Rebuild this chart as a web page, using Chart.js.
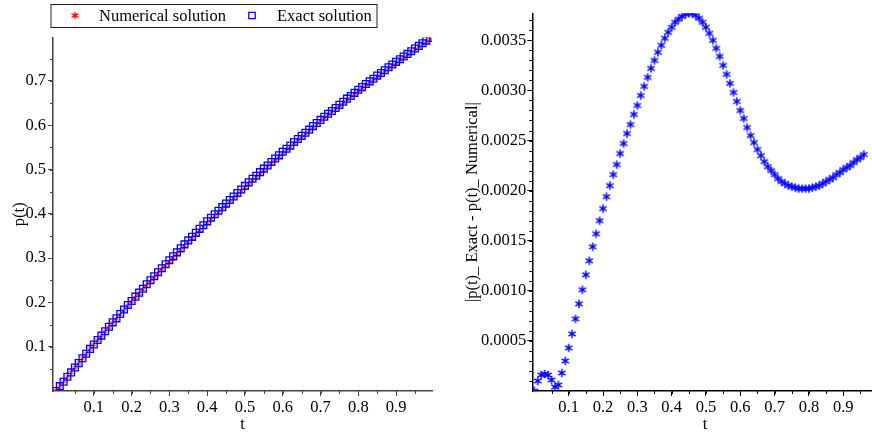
<!DOCTYPE html>
<html>
<head>
<meta charset="utf-8">
<title>p(t) exact vs numerical</title>
<script src="https://cdn.jsdelivr.net/npm/chart.js@4.4.1/dist/chart.umd.min.js"></script>
<style>
    html, body { margin: 0; padding: 0; background: #fff; overflow: hidden; }
    #left-wrap { position: absolute; left: 0; top: 0; width: 440px; height: 433px; }
    #right-wrap { position: absolute; left: 440px; top: 0; width: 443px; height: 433px; }
</style>
</head>
<body>
<div id="left-wrap"><canvas id="solutionChart" width="440" height="433"></canvas></div>
<div id="right-wrap"><canvas id="errorChart" width="443" height="433"></canvas></div>
<script>
// ---- data ----
const tValues = [0, 0.01, 0.02, 0.03, 0.04, 0.05, 0.06, 0.07, 0.08, 0.09,
    0.10, 0.11, 0.12, 0.13, 0.14, 0.15, 0.16, 0.17, 0.18, 0.19,
    0.20, 0.21, 0.22, 0.23, 0.24, 0.25, 0.26, 0.27, 0.28, 0.29,
    0.30, 0.31, 0.32, 0.33, 0.34, 0.35, 0.36, 0.37, 0.38, 0.39,
    0.40, 0.41, 0.42, 0.43, 0.44, 0.45, 0.46, 0.47, 0.48, 0.49,
    0.50, 0.51, 0.52, 0.53, 0.54, 0.55, 0.56, 0.57, 0.58, 0.59,
    0.60, 0.61, 0.62, 0.63, 0.64, 0.65, 0.66, 0.67, 0.68, 0.69,
    0.70, 0.71, 0.72, 0.73, 0.74, 0.75, 0.76, 0.77, 0.78, 0.79,
    0.80, 0.81, 0.82, 0.83, 0.84, 0.85, 0.86, 0.87, 0.88, 0.89,
    0.90, 0.91, 0.92, 0.93, 0.94, 0.95, 0.96, 0.97, 0.98, 0.99];

const exactValues = [0.000, 0.011, 0.021, 0.032, 0.042, 0.053, 0.063, 0.074, 0.084, 0.095,
    0.105, 0.115, 0.125, 0.135, 0.145, 0.155, 0.164, 0.174, 0.184, 0.194,
    0.203, 0.213, 0.222, 0.231, 0.241, 0.250, 0.259, 0.268, 0.277, 0.286,
    0.295, 0.304, 0.313, 0.322, 0.331, 0.340, 0.348, 0.357, 0.366, 0.374,
    0.383, 0.391, 0.399, 0.407, 0.415, 0.423, 0.431, 0.439, 0.447, 0.455,
    0.463, 0.471, 0.479, 0.486, 0.494, 0.502, 0.509, 0.517, 0.525, 0.532,
    0.540, 0.547, 0.554, 0.562, 0.569, 0.576, 0.583, 0.590, 0.598, 0.605,
    0.612, 0.619, 0.626, 0.632, 0.639, 0.646, 0.653, 0.660, 0.666, 0.673,
    0.680, 0.686, 0.693, 0.699, 0.705, 0.712, 0.718, 0.724, 0.731, 0.737,
    0.743, 0.749, 0.755, 0.761, 0.767, 0.773, 0.779, 0.785, 0.791, 0.797];

const numericalValues = [0.0000, 0.0109, 0.0208, 0.0318, 0.0418, 0.0529, 0.0630, 0.0739, 0.0838, 0.0947,
    0.1046, 0.1144, 0.1243, 0.1341, 0.1440, 0.1538, 0.1627, 0.1726, 0.1824, 0.1923,
    0.2012, 0.2111, 0.2199, 0.2288, 0.2387, 0.2476, 0.2565, 0.2654, 0.2743, 0.2832,
    0.2922, 0.3010, 0.3100, 0.3189, 0.3278, 0.3367, 0.3446, 0.3535, 0.3625, 0.3704,
    0.3794, 0.3873, 0.3953, 0.4033, 0.4112, 0.4192, 0.4272, 0.4352, 0.4433, 0.4513,
    0.4594, 0.4674, 0.4755, 0.4826, 0.4907, 0.4987, 0.5058, 0.5139, 0.5220, 0.5291,
    0.5372, 0.5443, 0.5514, 0.5594, 0.5665, 0.5736, 0.5806, 0.5877, 0.5958, 0.6028,
    0.6098, 0.6169, 0.6239, 0.6299, 0.6370, 0.6440, 0.6510, 0.6580, 0.6640, 0.6710,
    0.6780, 0.6840, 0.6910, 0.6969, 0.7029, 0.7099, 0.7159, 0.7219, 0.7288, 0.7348,
    0.7408, 0.7468, 0.7528, 0.7587, 0.7647, 0.7707, 0.7766, 0.7826, 0.7886, 0.7946];

// |exact - numerical| for t = 0 .. 0.96 (rest is cut off in the picture)
const errorValues = [0, 0.00010, 0.00016, 0.00017, 0.00016, 0.00011, 0.00004, 0.00006, 0.00018, 0.00030,
    0.00043, 0.00057, 0.00072, 0.00087, 0.00101, 0.00116, 0.00130, 0.00144, 0.00157, 0.00170,
    0.00182, 0.00194, 0.00205, 0.00216, 0.00226, 0.00237, 0.00247, 0.00257, 0.00266, 0.00276,
    0.00285, 0.00295, 0.00304, 0.00313, 0.00322, 0.00330, 0.00338, 0.00345, 0.00352, 0.00358,
    0.00363, 0.00368, 0.00371, 0.00374, 0.00376, 0.00377, 0.00377, 0.00375, 0.00372, 0.00368,
    0.00363, 0.00357, 0.00350, 0.00342, 0.00334, 0.00325, 0.00316, 0.00307, 0.00298, 0.00289,
    0.00280, 0.00272, 0.00263, 0.00255, 0.00248, 0.00241, 0.00235, 0.00229, 0.00224, 0.00220,
    0.00216, 0.00212, 0.00209, 0.00207, 0.00205, 0.00204, 0.00203, 0.00202, 0.00202, 0.00202,
    0.00202, 0.00203, 0.00204, 0.00205, 0.00207, 0.00209, 0.00211, 0.00213, 0.00216, 0.00218,
    0.00221, 0.00223, 0.00225, 0.00228, 0.00231, 0.00233, 0.00236];

const leftXTicks = [0.1, 0.2, 0.3, 0.4, 0.5, 0.6, 0.7, 0.8, 0.9];
const leftYTicks = [0.1, 0.2, 0.3, 0.4, 0.5, 0.6, 0.7];
const rightXTicks = [0.1, 0.2, 0.3, 0.4, 0.5, 0.6, 0.7, 0.8, 0.9];
const rightYTicks = [0.0005, 0.0010, 0.0015, 0.0020, 0.0025, 0.0030, 0.0035];

const legendLabels = ['Numerical solution', 'Exact solution'];

// ---- helpers ----
const FONT = { family: '"Liberation Serif", "Times New Roman", serif', size: 16.5 };

function toPoints(ys) {
    return ys.map((y, i) => ({ x: tValues[i], y: y }));
}

function fixedTicks(list) {
    return scale => { scale.ticks = list.map(v => ({ value: v })); };
}

// six-armed asterisk like Maple's "asterisk" symbol, used as pointStyle
function makeAsterisk(color, arm, lineWidth) {
    const size = Math.ceil(arm * 2 + lineWidth + 2);
    const c = document.createElement('canvas');
    c.width = size;
    c.height = size;
    const ctx = c.getContext('2d');
    const m = size / 2;
    ctx.strokeStyle = color;
    ctx.lineWidth = lineWidth;
    ctx.lineCap = 'butt';
    ctx.beginPath();
    for (let k = 0; k < 3; k++) {
        const a = Math.PI / 2 + k * Math.PI / 3;
        ctx.moveTo(m - arm * Math.cos(a), m - arm * Math.sin(a));
        ctx.lineTo(m + arm * Math.cos(a), m + arm * Math.sin(a));
    }
    ctx.stroke();
    return c;
}

const redStar = makeAsterisk('#ff0000', 2.6, 1);
const redStarBig = makeAsterisk('#ff0000', 3.8, 1.3);
const blueStar = makeAsterisk('#0000ff', 4.2, 1.4);

// short minor ticks between the labelled ones (Maple style)
const minorTicks = {
    id: 'minorTicks',
    afterDraw(chart, args, opts) {
        const ctx = chart.ctx;
        const { x, y } = chart.scales;
        ctx.save();
        ctx.strokeStyle = opts.color;
        ctx.lineWidth = 1;
        ctx.beginPath();
        for (let i = 1; i * opts.xStep <= x.max + 1e-9; i++) {
            const px = Math.round(x.getPixelForValue(i * opts.xStep)) + 0.5;
            ctx.moveTo(px, y.bottom);
            ctx.lineTo(px, y.bottom + 3);
        }
        for (let i = 1; i * opts.yStep <= y.max + 1e-12; i++) {
            const py = Math.round(y.getPixelForValue(i * opts.yStep)) + 0.5;
            ctx.moveTo(x.left - 3, py);
            ctx.lineTo(x.left, py);
        }
        ctx.stroke();
        ctx.restore();
    }
};

// boxed legend in the top-left corner
const boxLegend = {
    id: 'boxLegend',
    afterDraw(chart, args, opts) {
        if (!opts.display) return;
        const ctx = chart.ctx;
        ctx.save();
        ctx.strokeStyle = '#222';
        ctx.lineWidth = 1;
        ctx.strokeRect(opts.box[0] + 0.5, opts.box[1] + 0.5, opts.box[2], opts.box[3]);
        ctx.font = FONT.size + 'px ' + FONT.family;
        ctx.textBaseline = 'middle';
        const cy = opts.box[1] + opts.box[3] / 2;
        opts.items.forEach(item => {
            const ds = chart.data.datasets.find(d => d.label === item.label);
            ctx.strokeStyle = ds.borderColor;
            ctx.fillStyle = ds.backgroundColor;
            ctx.lineWidth = item.width;
            Chart.helpers.drawPoint(ctx, {
                pointStyle: item.style || ds.pointStyle,
                radius: item.radius,
                borderWidth: item.width,
                rotation: 0
            }, item.markerX, cy);
            ctx.fillStyle = '#000';
            ctx.fillText(item.label, item.textX, cy + 1);
        });
        ctx.restore();
    }
};

function axisOptions(min, max, tickList, digits, color, fitSize, title, titlePad) {
    return {
        type: 'linear',
        min: min,
        max: max,
        afterBuildTicks: fixedTicks(tickList),
        ticks: {
            color: '#000',
            font: FONT,
            padding: digits === 4 ? 1 : 2,
            maxRotation: 0,
            autoSkip: false,
            callback: v => v.toFixed(digits)
        },
        grid: {
            display: true,
            drawOnChartArea: false,
            drawTicks: true,
            tickLength: 5,
            tickColor: color,
            tickWidth: 1
        },
        border: { display: true, color: color, width: 1.5 },
        title: {
            display: true,
            text: title,
            color: '#000',
            font: { family: FONT.family, size: FONT.size, lineHeight: 1.2 },
            padding: titlePad
        },
        afterFit: fitSize
    };
}

Chart.defaults.animation = false;
Chart.defaults.events = [];

// ---- left: exact vs numerical solution ----
// squares first so they sit on top of the small red stars
const solutionChart = new Chart(document.getElementById('solutionChart').getContext('2d'), {
    type: 'scatter',
    data: {
        datasets: [{
            label: legendLabels[1],
            data: toPoints(exactValues),
            pointStyle: 'rect',
            pointRadius: 4.8,
            borderColor: '#0000ff',
            backgroundColor: 'rgba(0,0,0,0)',
            borderWidth: 1.3
        }, {
            label: legendLabels[0],
            data: toPoints(numericalValues),
            pointStyle: redStar,
            pointRadius: 3,
            borderColor: '#ff0000',
            backgroundColor: '#ff0000',
            borderWidth: 1
        }]
    },
    options: {
        responsive: false,
        layout: { padding: { top: 37.5, right: 8, left: 0, bottom: 0 } },
        scales: {
            x: axisOptions(-0.008, 0.995, leftXTicks, 1, '#444',
                s => { s.height = 42; }, 't', { top: 0, bottom: -2 }),
            y: axisOptions(0, 0.798, leftYTicks, 1, '#444',
                s => { s.width = 53; }, 'p(t)', { top: 10, bottom: 0 })
        },
        plugins: {
            legend: { display: false },
            tooltip: { enabled: false },
            minorTicks: { xStep: 0.05, yStep: 0.05, color: '#444' },
            boxLegend: {
                display: true,
                box: [50.5, 4, 326, 23],
                items: [
                    { label: legendLabels[0], markerX: 75, textX: 99, radius: 4, width: 1.3, style: redStarBig },
                    { label: legendLabels[1], markerX: 252, textX: 277, radius: 4.5, width: 1.3 }
                ]
            }
        }
    },
    plugins: [minorTicks, boxLegend]
});

// ---- right: absolute error ----
const errorChart = new Chart(document.getElementById('errorChart').getContext('2d'), {
    type: 'scatter',
    data: {
        datasets: [{
            label: 'error',
            data: toPoints(errorValues),
            pointStyle: blueStar,
            pointRadius: 4,
            borderColor: '#0000ff',
            backgroundColor: '#0000ff',
            borderWidth: 1.4
        }]
    },
    options: {
        responsive: false,
        layout: { padding: { top: 13.3, right: 0, left: 0, bottom: 0 } },
        scales: {
            x: axisOptions(-0.006, 1.0, rightXTicks, 1, '#000',
                s => { s.height = 42; }, 't', { top: 0, bottom: -2 }),
            y: axisOptions(0, 0.00377, rightYTicks, 4, '#000',
                s => { s.width = 92.3; }, '|p(t)_ Exact - p(t)_ Numerical|', { top: 23, bottom: 0 })
        },
        plugins: {
            legend: { display: false },
            tooltip: { enabled: false },
            minorTicks: { xStep: 0.05, yStep: 0.0001, color: '#000' }
        }
    },
    plugins: [minorTicks]
});
</script>
</body>
</html>
